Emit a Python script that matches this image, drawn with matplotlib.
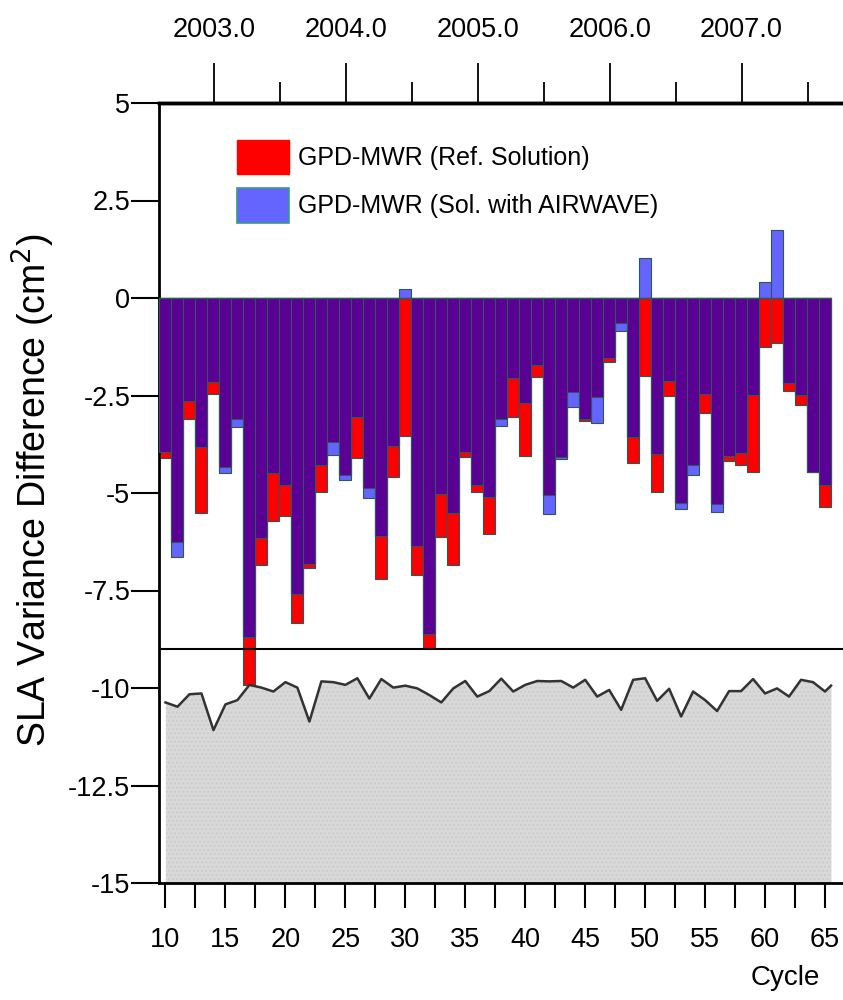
import numpy as np
import matplotlib
matplotlib.use("Agg")
import matplotlib.pyplot as plt
from matplotlib.patches import Patch

plt.rcParams['axes.unicode_minus'] = False
REG = ['Liberation Sans', 'DejaVu Sans']
plt.rcParams['font.family'] = REG

# ---------------- data ----------------
cycles = list(range(10, 66))
ref_solution = [-4.10, -6.25, -3.10, -5.50, -2.47, -4.33, -3.09, -9.92, -6.85, -5.73,
                -5.59, -8.34, -6.93, -4.97, -3.68, -4.54, -4.11, -4.88, -7.21, -4.60,
                -3.54, -7.10, -8.98, -6.12, -6.85, -4.07, -4.97, -6.05, -3.09, -3.06,
                -4.05, -2.02, -5.05, -4.07, -2.40, -3.15, -2.55, -1.63, -0.63, -4.22,
                -2.00, -4.97, -2.51, -5.25, -4.28, -2.94, -5.27, -4.17, -4.28, -4.45,
                -1.25, -1.16, -2.38, -2.74, -4.47, -5.37]
airwave_solution = [-3.95, -6.65, -2.63, -3.83, -2.15, -4.48, -3.30, -8.70, -6.16, -4.48,
                    -4.79, -7.59, -6.82, -4.28, -4.03, -4.67, -3.06, -5.14, -6.10, -3.79,
                    0.22, -6.36, -8.62, -5.03, -5.52, -3.94, -4.79, -5.11, -3.28, -2.06,
                    -2.68, -1.73, -5.54, -4.14, -2.79, -3.09, -3.21, -1.55, -0.84, -3.57,
                    1.03, -4.00, -2.12, -5.42, -4.54, -2.46, -5.48, -4.05, -3.98, -2.49,
                    0.42, 1.74, -2.19, -2.49, -4.45, -4.79]
gray_cycles = list(range(10, 66)) + [65.5]
gray_values = [-10.37, -10.48, -10.16, -10.14, -11.08, -10.42, -10.31, -9.92, -9.99, -10.09,
               -9.85, -9.99, -10.86, -9.83, -9.85, -9.92, -9.75, -10.27, -9.77, -9.99,
               -9.94, -10.01, -10.18, -10.37, -10.01, -9.82, -10.22, -10.08, -9.76, -10.09,
               -9.92, -9.82, -9.83, -9.82, -9.99, -9.79, -10.22, -10.05, -10.56, -9.79,
               -9.75, -10.33, -10.02, -10.73, -10.09, -10.31, -10.59, -10.08, -10.08, -9.77,
               -10.14, -10.01, -10.22, -9.79, -9.85, -10.09, -9.94]
separator_level = -9.0
yticks = [5, 2.5, 0, -2.5, -5, -7.5, -10, -12.5, -15]
ytick_labels = ['5', '2.5', '0', '-2.5', '-5', '-7.5', '-10', '-12.5', '-15']
xtick_labels = [10, 15, 20, 25, 30, 35, 40, 45, 50, 55, 60, 65]
years = [2003.0, 2004.0, 2005.0, 2006.0, 2007.0, 2008.0]
legend_labels = ['GPD-MWR (Ref. Solution)', 'GPD-MWR (Sol. with AIRWAVE)']

# cycle <-> year conversion (from top axis)
CYC0, CYC_PER_YEAR = 14.04, 11.0
def c2y(c):
    return 2003.0 + (np.asarray(c, dtype=float) - CYC0) / CYC_PER_YEAR
def y2c(y):
    return CYC0 + (np.asarray(y, dtype=float) - 2003.0) * CYC_PER_YEAR

RED = '#ff0000'
BLUE = '#6464ff'
PURPLE = '#5a0094'
EDGE = '#2d5858'
TFS = 19.5

fig = plt.figure(figsize=(8.43, 10.0), dpi=100)
ax = fig.add_axes([0.1892, 0.117, 0.8108, 0.780])

x = np.array(cycles, dtype=float)
ref = np.array(ref_solution)
air = np.array(airwave_solution)
overlap = np.where((ref < 0) & (air < 0), np.maximum(ref, air), 0.0)

ax.bar(x, ref, width=1.0, color=RED, edgecolor=EDGE, linewidth=0.8, zorder=2)
ax.bar(x, air, width=1.0, color=BLUE, edgecolor=EDGE, linewidth=0.8, zorder=2)
ax.bar(x, overlap, width=1.0, color=PURPLE, edgecolor=EDGE, linewidth=0.8, zorder=3)
ax.hlines(0, x[0] - 0.5, x[-1] + 0.5, color=EDGE, lw=1.0, zorder=4)

ax.fill_between(gray_cycles, gray_values, -15, color='#d9d9d9', lw=0, zorder=1)
ax.fill_between(gray_cycles, gray_values, -15, facecolor='none', edgecolor='#cccccc',
                hatch='....', lw=0, zorder=1)
ax.plot(gray_cycles, gray_values, color='#333333', lw=1.8, zorder=2)
ax.axhline(separator_level, color='black', lw=1.5, zorder=4)

ax.set_xlim(9.5, 66.5)
ax.set_ylim(-15, 5)
ax.set_yticks(yticks)
ax.set_yticklabels(ytick_labels, fontsize=TFS)
xt = np.arange(10, 66.5, 2.5)
ax.set_xticks(xt)
ax.set_xticklabels([str(int(v)) if v in xtick_labels else '' for v in xt], fontsize=TFS)
ax.tick_params(axis='y', direction='out', length=20, width=1.5, pad=1)
ax.tick_params(axis='x', direction='out', length=18, width=1.5, pad=14)

ax.spines['right'].set_visible(False)
ax.spines['left'].set_linewidth(2.0)
ax.spines['bottom'].set_linewidth(2.0)
ax.spines['top'].set_linewidth(2.5)

ax.set_ylabel('SLA Variance Difference (cm$^2$)', fontsize=27)
ax.yaxis.set_label_coords(-0.150, 0.504)
ax.set_xlabel('Cycle', fontsize=20)
ax.xaxis.set_label_coords(0.915, -0.105)

# top year axis
sec = ax.secondary_xaxis('top', functions=(c2y, y2c))
sec.set_xticks(years)
sec.set_xticklabels(['%.1f' % v for v in years], fontsize=TFS)
sec.set_xticks(np.arange(2003.5, 2008.0, 1.0), minor=True)
sec.tick_params(axis='x', which='major', direction='out', length=29, width=1.3, pad=14)
sec.tick_params(axis='x', which='minor', direction='out', length=15, width=1.3)
sec.spines['top'].set_linewidth(2.5)

handles = [Patch(facecolor=RED, edgecolor=RED), Patch(facecolor=BLUE, edgecolor='#3c9a8a', lw=1.2)]
ax.legend(handles, legend_labels, loc='upper left', bbox_to_anchor=(0.113, 0.953),
          frameon=False, prop={'size': 18},
          handlelength=2.1, handleheight=1.75, labelspacing=0.55, handletextpad=0.35,
          borderpad=0, borderaxespad=0)

fig.savefig('out.png', dpi=100)
